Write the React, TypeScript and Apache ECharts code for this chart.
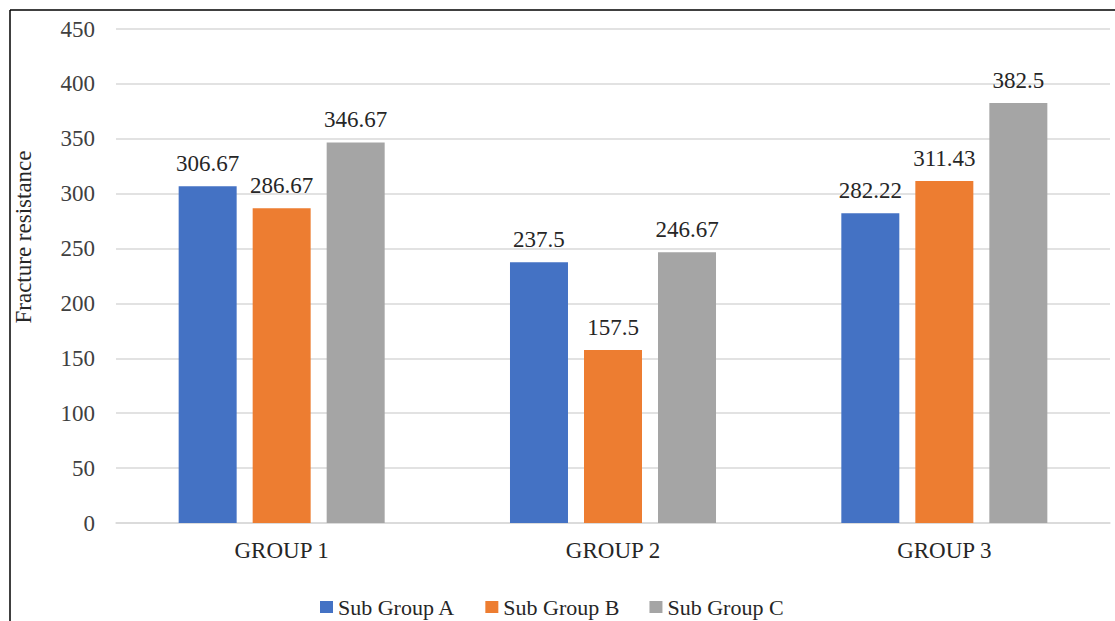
import React, { useEffect, useRef } from "react";
import * as echarts from "echarts";

const categories = ["GROUP 1", "GROUP 2", "GROUP 3"];
const subGroupA = [306.67, 237.5, 282.22];
const subGroupB = [286.67, 157.5, 311.43];
const subGroupC = [346.67, 246.67, 382.5];
const seriesNames = ["Sub Group A", "Sub Group B", "Sub Group C"];
const yAxisTitle = "Fracture resistance";
const colors = ["#4472C4", "#ED7D31", "#A5A5A5"];

const FONT = "Liberation Serif";

export default function App() {
  const ref = useRef<HTMLDivElement>(null);
  useEffect(() => {
    if (!ref.current) return;
    const chart = echarts.init(ref.current, undefined, { renderer: "svg" });
    const data = [subGroupA, subGroupB, subGroupC];
    chart.setOption({
      animation: false,
      backgroundColor: "#ffffff",
      textStyle: { fontFamily: FONT },
      graphic: [
        { type: "line", shape: { x1: 10, y1: 10, x2: 1115, y2: 10 }, style: { stroke: "#000", lineWidth: 1.5 } },
        { type: "line", shape: { x1: 10, y1: 10, x2: 10, y2: 621 }, style: { stroke: "#000", lineWidth: 1.5 } },
        {
          type: "text",
          x: 23,
          y: 237,
          rotation: Math.PI / 2,
          style: {
            text: yAxisTitle,
            align: "center",
            verticalAlign: "middle",
            fontFamily: FONT,
            fontSize: 23,
            fill: "#262626",
          },
        },
      ],
      grid: { left: 116, right: 5, top: 29, bottom: 98, containLabel: false },
      legend: {
        top: 591,
        left: 315,
        itemWidth: 13,
        itemHeight: 12,
        itemGap: 30,
        icon: "rect",
        textStyle: { fontFamily: FONT, fontSize: 22, color: "#262626" },
        data: seriesNames,
      },
      xAxis: {
        type: "category",
        data: categories,
        axisLine: { lineStyle: { color: "#D9D9D9", width: 1.5 } },
        axisTick: { show: false },
        axisLabel: { fontFamily: FONT, fontSize: 23, color: "#262626", margin: 16 },
      },
      yAxis: {
        type: "value",
        min: 0,
        max: 450,
        interval: 50,
        axisLine: { show: false },
        axisTick: { show: false },
        splitLine: { lineStyle: { color: "#D9D9D9", width: 1.5 } },
        axisLabel: { fontFamily: FONT, fontSize: 23, color: "#404040", margin: 21 },
      },
      series: seriesNames.map((name, i) => ({
        name,
        type: "bar",
        data: data[i],
        barWidth: 58,
        barGap: "27.6%",
        itemStyle: { color: colors[i] },
        label: {
          show: true,
          position: "top",
          distance: 11,
          fontFamily: FONT,
          fontSize: 23,
          color: "#262626",
        },
      })),
    });
    return () => chart.dispose();
  }, []);
  return (
    <div
      ref={ref}
      style={{ position: "absolute", left: 0, top: 0, width: 1115, height: 621 }}
    />
  );
}
